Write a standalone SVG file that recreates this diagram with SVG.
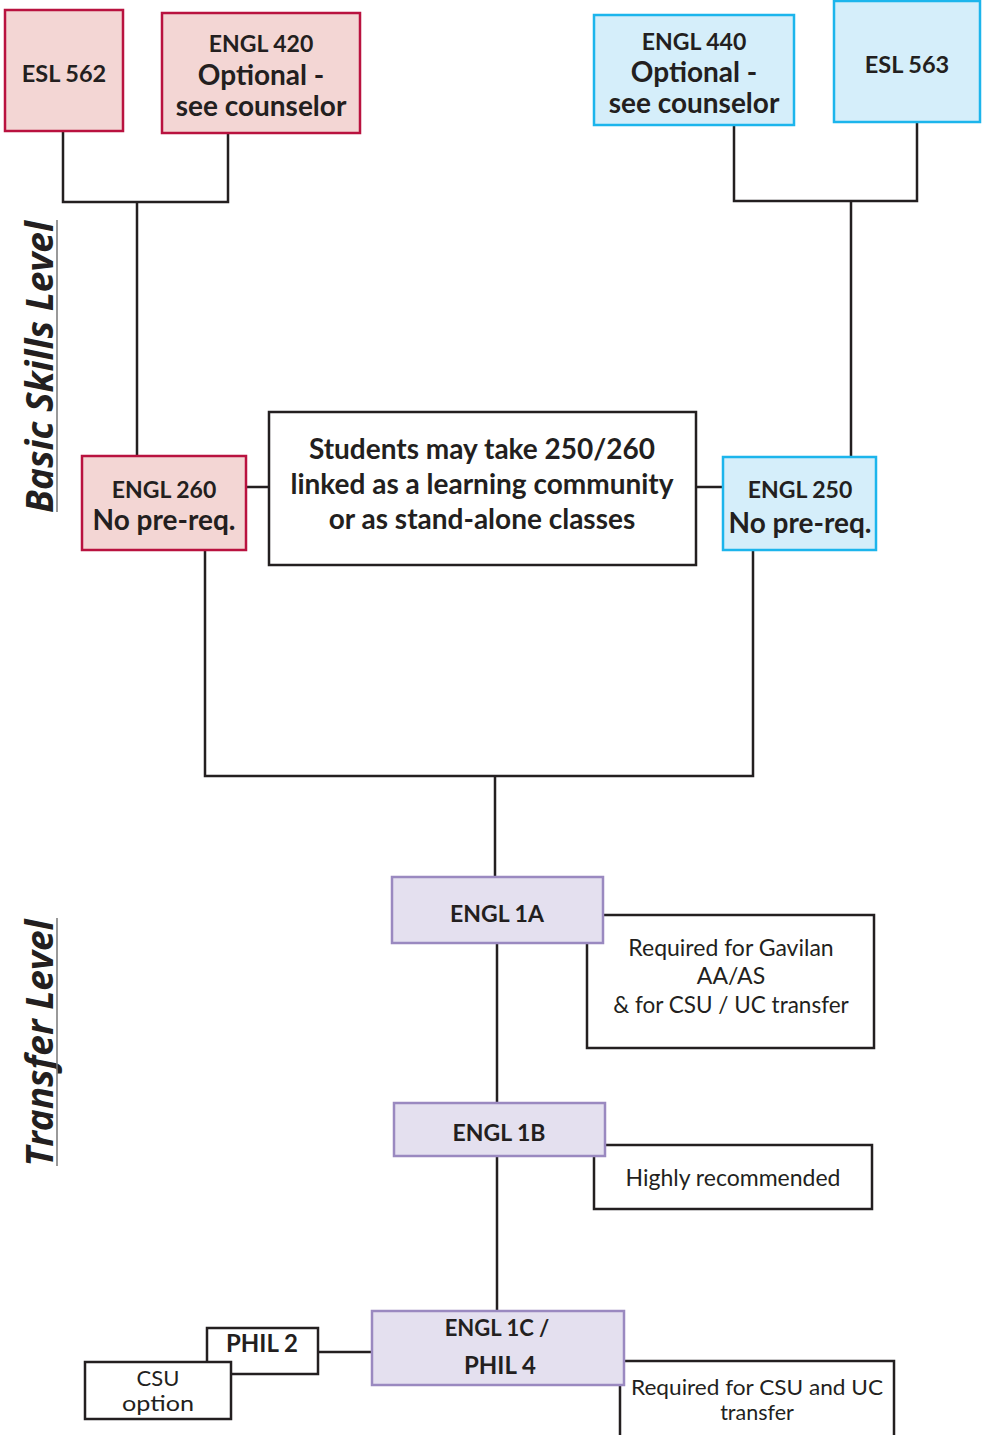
<svg xmlns="http://www.w3.org/2000/svg" width="982" height="1435" viewBox="0 0 982 1435">
<style>
.pink{fill:#f3d6d4;stroke:#b9123f;stroke-width:2.5}
.blue{fill:#d5eefa;stroke:#1cb5ec;stroke-width:2.5}
.lav{fill:#e4e0ef;stroke:#9a89c0;stroke-width:2.5}
.plain{fill:#fff;stroke:#231f20;stroke-width:2.5}
.conn{fill:none;stroke:#231f20;stroke-width:2.5}
text{font-family:Lato,"Open Sans",sans-serif;fill:#231f20;text-anchor:middle}
.b{font-weight:bold}
.lbl{font-family:"Open Sans",Lato,sans-serif;font-weight:bold;font-style:italic;font-size:37px}
</style>
<rect width="982" height="1435" fill="#fff"/>
<g id="connectors">
<path class="conn" d="M63,131 V202 H228 V133 M137,202 V456"/>
<path class="conn" d="M734,125 V201 H917 V122 M851,201 V457"/>
<path class="conn" d="M246,487 H269 M696,487 H723"/>
<path class="conn" d="M205,550 V776 H753 V550 M495,776 V877"/>
<path class="conn" d="M497,943 V1103 M497,1156 V1311 M318,1352 H372"/>
</g>
<g id="esl562"><rect class="pink" x="5" y="10" width="118" height="121"/><text class="b" x="64" y="82" font-size="23.5">ESL 562</text></g>
<g id="engl420"><rect class="pink" x="162" y="13" width="198" height="120"/>
<text class="b" x="261" y="52" font-size="23">ENGL 420</text>
<text class="b" x="261" y="85" font-size="28">Optional -</text>
<text class="b" x="261" y="116" font-size="28">see counselor</text></g>
<g id="engl440"><rect class="blue" x="594" y="15" width="200" height="110"/>
<text class="b" x="694" y="50" font-size="23">ENGL 440</text>
<text class="b" x="694" y="82" font-size="28">Optional -</text>
<text class="b" x="694" y="113" font-size="28">see counselor</text></g>
<g id="esl563"><rect class="blue" x="834" y="1" width="146" height="121"/><text class="b" x="907" y="73" font-size="23.5">ESL 563</text></g>
<g id="engl260"><rect class="pink" x="82" y="456" width="164" height="94"/>
<text class="b" x="164" y="498" font-size="23">ENGL 260</text>
<text class="b" x="164" y="530" font-size="28">No pre-req.</text></g>
<g id="linked"><rect class="plain" x="269" y="412" width="427" height="153"/>
<text class="b" x="482" y="459" font-size="28">Students may take 250/260</text>
<text class="b" x="482" y="494" font-size="28">linked as a learning community</text>
<text class="b" x="482" y="529" font-size="28">or as stand-alone classes</text></g>
<g id="engl250"><rect class="blue" x="723" y="457" width="153" height="93"/>
<text class="b" x="800" y="498" font-size="23">ENGL 250</text>
<text class="b" x="800" y="533" font-size="28">No pre-req.</text></g>
<g id="req1a"><rect class="plain" x="587" y="915" width="287" height="133"/>
<text x="731" y="956" font-size="23">Required for Gavilan</text>
<text x="731" y="984" font-size="23">AA/AS</text>
<text x="731" y="1013" font-size="22.5">&amp; for CSU / UC transfer</text></g>
<g id="engl1a"><rect class="lav" x="392" y="877" width="211" height="66"/><text class="b" x="497" y="922" font-size="23">ENGL 1A</text></g>
<g id="req1b"><rect class="plain" x="594" y="1145" width="278" height="64"/><text x="733" y="1186" font-size="23">Highly recommended</text></g>
<g id="engl1b"><rect class="lav" x="394" y="1103" width="211" height="53"/><text class="b" x="499" y="1141" font-size="23">ENGL 1B</text></g>
<g id="req1c"><path class="plain" d="M620,1437 V1361 H894 V1437"/>
<text x="757" y="1395" font-size="21.5" textLength="252" lengthAdjust="spacingAndGlyphs">Required for CSU and UC</text>
<text x="757" y="1420" font-size="21.5">transfer</text></g>
<g id="engl1c"><rect class="lav" x="372" y="1311" width="252" height="74"/>
<text class="b" x="497" y="1336" font-size="22">ENGL 1C /</text>
<text class="b" x="500" y="1374" font-size="24">PHIL 4</text></g>
<g id="phil2"><rect class="plain" x="207" y="1328" width="111" height="46"/><text class="b" x="262" y="1352" font-size="24">PHIL 2</text></g>
<g id="csu"><rect class="plain" x="85" y="1362" width="146" height="57"/>
<text x="158" y="1386" font-size="22">CSU</text>
<text x="158" y="1411" font-size="22" textLength="72" lengthAdjust="spacingAndGlyphs">option</text></g>
<g id="label-basic"><text class="lbl" transform="translate(53,367) rotate(-90)">Basic Skills Level</text><line x1="57" y1="220" x2="57" y2="512" stroke="#777" stroke-width="1.5"/></g>
<g id="label-transfer"><text class="lbl" transform="translate(53,1043) rotate(-90)">Transfer Level</text><line x1="57" y1="918" x2="57" y2="1166" stroke="#777" stroke-width="1.5"/></g>
</svg>
